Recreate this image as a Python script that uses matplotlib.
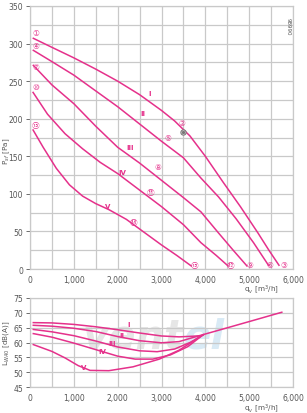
import numpy as np
import matplotlib
matplotlib.use("Agg")
from matplotlib import pyplot as plt
from matplotlib.ticker import FuncFormatter, MultipleLocator

plt.rcParams['font.family'] = ['DejaVu Sans', 'Noto Sans CJK JP']

# pressure curves (q_v in m3/h, p_sf in Pa)
q_I = [76, 500, 1000, 1500, 2000, 2500, 3000, 3300, 3650, 4000, 4400, 4800, 5200, 5450, 5680]
p_I = [307, 295, 281, 266, 250, 232, 211, 197, 177, 150, 116, 83, 48, 25, 5]
q_II = [76, 500, 1000, 1500, 2000, 2500, 3000, 3500, 3900, 4300, 4700, 5100, 5440]
p_II = [291, 276, 258, 237, 216, 193, 170, 148, 121, 96, 67, 35, 5]
q_III = [76, 500, 1000, 1500, 2000, 2500, 3000, 3500, 3900, 4300, 4650, 4950]
p_III = [271, 245, 220, 190, 162, 141, 118, 95, 76, 48, 24, 4]
q_IV = [70, 400, 800, 1200, 1600, 2000, 2500, 3000, 3500, 3900, 4250, 4520]
p_IV = [235, 206, 180, 160, 142, 127, 105, 83, 59, 35, 18, 4]
q_V = [70, 300, 600, 900, 1200, 1500, 1800, 2200, 2600, 3000, 3350, 3680]
p_V = [185, 162, 134, 112, 97, 87, 79, 66, 49, 32, 18, 4]

# sound power curves (dB(A))
lq_I = [75, 500, 1000, 1500, 2000, 2500, 3000, 3400, 3840, 4440, 5130, 5745]
lw_I = [66.7, 66.6, 66.1, 65.3, 64.3, 63.2, 62.2, 61.9, 62.2, 64.7, 67.6, 70.2]
lq_II = [75, 500, 1000, 1500, 2000, 2500, 3000, 3400, 3840]
lw_II = [65.8, 65.5, 64.8, 63.7, 62.0, 60.6, 59.9, 60.3, 62.2]
lq_III = [75, 500, 1000, 1500, 2000, 2500, 2900, 3300, 3650, 3950]
lw_III = [64.4, 63.6, 62.3, 60.5, 58.5, 57.2, 56.9, 57.8, 60.0, 62.6]
lq_IV = [75, 500, 1000, 1500, 2000, 2400, 2800, 3200, 3600, 3950]
lw_IV = [63.0, 61.8, 59.8, 57.6, 55.4, 54.4, 54.4, 55.8, 58.6, 62.6]
lq_V = [75, 500, 800, 1100, 1370, 1800, 2350, 2950, 3400, 3950]
lw_V = [59.3, 57.0, 54.8, 52.2, 50.6, 50.5, 51.8, 54.4, 57.4, 62.6]

roman = ["I", "II", "III", "IV", "V"]
top_lbl_pos = [(2740, 234), (2580, 208), (2280, 163), (2100, 129), (1780, 84)]
bot_lbl_pos = [(2240, 66.3), (2100, 62.6), (1870, 60.0), (1640, 57.3), (1230, 51.7)]

# circled point numbers: start / middle / end of each curve
start_lbl = ["\u2460", "\u2463", "\u2466", "\u2469", "\u246c"]
start_pos = [(137, 315), (137, 297), (137, 270), (137, 243), (137, 192)]
mid_lbl = ["\u2461", "\u2464", "\u2467", "\u246a", "\u246d"]
mid_pos = [(3470, 195), (3150, 175), (2925, 137), (2750, 103), (2355, 63)]
end_lbl = ["\u2462", "\u2465", "\u2468", "\u246b", "\u246e"]
end_pos = [(5790, 6), (5470, 6), (5020, 6), (4580, 6), (3760, 6)]

PINK = '#e5318b'
GRID = '#c9c9c9'
TXT = '#555555'

fig = plt.figure(figsize=(3.07, 4.14), dpi=100)
ax1 = fig.add_axes([30/307, 1-270/414, 263/307, 263/414])
ax2 = fig.add_axes([30/307, 1-388/414, 263/307, 89/414])

fmt = FuncFormatter(lambda v, p: "0" if v == 0 else "{:,.0f}".format(v))

for ax in (ax1, ax2):
	ax.set_xlim(0, 6000)
	ax.xaxis.set_major_locator(MultipleLocator(1000))
	ax.xaxis.set_minor_locator(MultipleLocator(500))
	ax.xaxis.set_major_formatter(fmt)
	ax.grid(True, which='both', color=GRID, lw=0.9)
	ax.set_axisbelow(True)
	for s in ax.spines.values():
		s.set_color(GRID)
		s.set_linewidth(0.9)
	ax.tick_params(which='both', labelsize=5.5, colors=TXT, length=3, width=0.6, pad=2)
	ax.tick_params(axis='x', which='both', length=0, pad=4)
	ax.tick_params(axis='y', which='minor', length=0)
	ax.set_xlabel("q$_v$ [m$^3$/h]", fontsize=5.2, color=TXT, labelpad=1)

ax1.xaxis.set_label_coords(0.88, -0.05)
ax2.xaxis.set_label_coords(0.88, -0.16)

ax1.set_ylim(0, 350)
ax1.yaxis.set_major_locator(MultipleLocator(50))
ax1.yaxis.set_minor_locator(MultipleLocator(25))
ax1.set_ylabel("P$_{sf}$ [Pa]", fontsize=5.2, color=TXT)
ax1.yaxis.set_label_coords(-0.068, 0.45)

ax2.set_ylim(45, 75)
ax2.yaxis.set_major_locator(MultipleLocator(5))
ax2.set_ylabel("L$_{WA0}$ [dB(A)]", fontsize=5.2, color=TXT)
ax2.yaxis.set_label_coords(-0.068, 0.5)

# watermark
ax2.text(3500, 62, "vent", fontsize=29, fontweight='bold', style='italic', color='#e6e6e6',
	ha='right', va='center', zorder=0)
ax2.text(3500, 62, "el", fontsize=29, fontweight='bold', style='italic', color='#d9eaf5',
	ha='left', va='center', zorder=0)

pq = [q_I, q_II, q_III, q_IV, q_V]
pp = [p_I, p_II, p_III, p_IV, p_V]
lq = [lq_I, lq_II, lq_III, lq_IV, lq_V]
lw = [lw_I, lw_II, lw_III, lw_IV, lw_V]

for i in range(5):
	ax1.plot(pq[i], pp[i], color=PINK, lw=1.1)
	ax2.plot(lq[i], lw[i], color=PINK, lw=1.1)
	ax1.text(*top_lbl_pos[i], roman[i], color=PINK, fontsize=5, ha='center', va='center', fontweight='bold')
	ax2.text(*bot_lbl_pos[i], roman[i], color=PINK, fontsize=5, ha='center', va='center', fontweight='bold')
	for lbl, pos in ((start_lbl, start_pos), (mid_lbl, mid_pos), (end_lbl, end_pos)):
		ax1.text(*pos[i], lbl[i], color=PINK, fontsize=5.5, ha='center', va='center')

# operating point marker
ax1.scatter([3500], [182], s=14, facecolor='white', edgecolor='#777777', lw=0.8, zorder=5)
ax1.scatter([3500], [182], s=2, color='#777777', zorder=6)

ax1.text(5900, 335, "98990", rotation=-90, fontsize=4, color=TXT, ha='center', va='top')

fig.savefig("out.png", dpi=100)
